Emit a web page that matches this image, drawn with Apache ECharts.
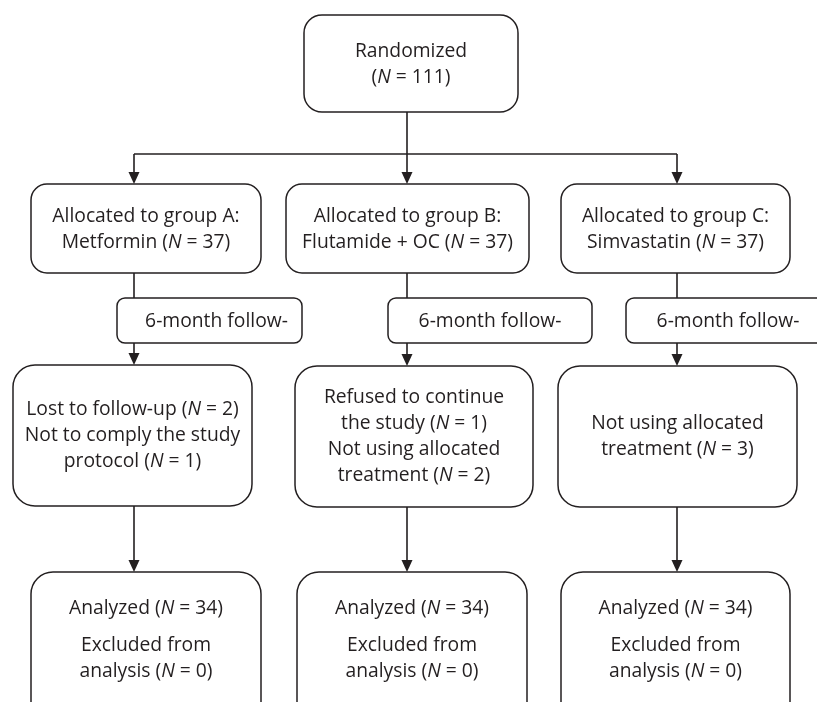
<!DOCTYPE html>
<html>
<head>
<meta charset="utf-8">
<script src="https://cdn.jsdelivr.net/npm/echarts@6/dist/echarts.min.js"></script>
<style>html,body{margin:0;padding:0;background:#fff}#c{width:817px;height:702px}</style>
</head>
<body>
<div id="c"></div>
<script>
// ---------------- data ----------------
const randomizedLabel = 'Randomized';
const randomizedN = 111;
const groupLetters = ['A', 'B', 'C'];
const groupDrugs = ['Metformin', 'Flutamide + OC', 'Simvastatin'];
const allocatedN = [37, 37, 37];
const followUpLabels = ['6-month follow-', '6-month follow-', '6-month follow-'];
// each loss reason: text lines, the last line carries the count
const lossReasons = [
  [['Lost to follow-up'], ['Not to comply the study', 'protocol']],
  [['Refused to continue', 'the study'], ['Not using allocated', 'treatment']],
  [['Not using allocated', 'treatment']]
];
const lossCounts = [[2, 1], [1, 2], [3]];
const analyzedN = [34, 34, 34];
const excludedN = [0, 0, 0];

// ---------------- layout (pixel-like units of the hidden axes) ----------------
const W = 817, H = 702;
const colX = [134, 407, 677];
const boxRandom = [304, 15, 518, 112];
const boxGroup = [[31, 184, 261, 273], [286, 184, 529, 273], [561, 184, 790, 273]];
const boxFollow = [[117, 298, 302, 343], [388, 298, 592, 343], [626, 298, 830, 343]];
const followTextDx = [7, 0, 0];
const boxLoss = [[13, 365, 252, 506], [295, 366, 533, 507], [558, 366, 797, 507]];
const boxAnalyzed = [[31, 572, 261, 730], [297, 572, 527, 730], [561, 572, 790, 730]];
const branchY = 154;

const INK = '#231f20';
const FONT = '"Open Sans", sans-serif';
const FS = 19.3;
const LH = 26;
const TDY = 1.5;

const nTxt = n => '({i|N} = ' + n + ')';

// build box items
const boxes = [];
boxes.push({ r: boxRandom, rad: 18, lines: [randomizedLabel, nTxt(randomizedN)] });
groupLetters.forEach((g, i) => {
  boxes.push({ r: boxGroup[i], rad: 16, lines: ['Allocated to group ' + g + ':', groupDrugs[i] + ' ' + nTxt(allocatedN[i])] });
  boxes.push({ r: boxFollow[i], rad: 8, lines: [followUpLabels[i]], dx: followTextDx[i] });
  const ls = [];
  lossReasons[i].forEach((reason, k) => {
    reason.forEach((t, j) => {
      ls.push(j === reason.length - 1 ? t + ' ' + nTxt(lossCounts[i][k]) : t);
    });
  });
  boxes.push({ r: boxLoss[i], rad: 22, lines: ls, dy: -1 });
  boxes.push({ r: boxAnalyzed[i], rad: 22, lines: ['Analyzed ' + nTxt(analyzedN[i])],
               extra: ['Excluded from', 'analysis ' + nTxt(excludedN[i])], bottom: true });
});

// connectors: [x1,y1,x2,y2,arrow]
const links = [];
links.push([colX[1], boxRandom[3], colX[1], branchY, 0]);
links.push([colX[0], branchY, colX[2], branchY, 0]);
colX.forEach((x, i) => {
  links.push([x, branchY, x, boxGroup[i][1], 1]);
  links.push([x, boxGroup[i][3], x, boxFollow[i][1], 0]);
  links.push([x, boxFollow[i][3], x, boxLoss[i][1], 1]);
  links.push([x, boxLoss[i][3], x, boxAnalyzed[i][1], 1]);
});

const rich = { i: { fontStyle: 'italic', fontFamily: FONT, fontSize: FS, fill: INK } };

function txt(lines, cx, cy) {
  return {
    type: 'text',
    style: {
      text: lines.join('\n'), x: cx, y: cy + TDY, align: 'center', verticalAlign: 'middle',
      fontFamily: FONT, fontSize: FS, lineHeight: LH, fill: INK, rich: rich
    }
  };
}

const chart = echarts.init(document.getElementById('c'), null, { renderer: 'canvas' });
chart.setOption({
  backgroundColor: '#fff',
  animation: false,
  grid: { left: 0, right: 0, top: 0, bottom: 0 },
  xAxis: { type: 'value', min: 0, max: W, show: false },
  yAxis: { type: 'value', min: 0, max: H, inverse: true, show: false },
  series: [
    {
      type: 'custom',
      clip: false,
      data: links.map((l, i) => [i]),
      renderItem: function (params, api) {
        const l = links[api.value(0)];
        const p1 = api.coord([l[0], l[1]]);
        const p2 = api.coord([l[2], l[3]]);
        const ch = [];
        const ah = 12;
        const end = l[4] ? [p2[0], p2[1] - ah + 1] : p2;
        ch.push({ type: 'line', shape: { x1: p1[0], y1: p1[1], x2: end[0], y2: end[1] },
                  style: { stroke: INK, lineWidth: 1.6 } });
        if (l[4]) {
          ch.push({ type: 'polygon', shape: { points: [[p2[0] - 5.5, p2[1] - ah], [p2[0] + 5.5, p2[1] - ah], [p2[0], p2[1]]] },
                    style: { fill: INK } });
        }
        return { type: 'group', children: ch };
      }
    },
    {
      type: 'custom',
      clip: false,
      data: boxes.map((b, i) => [i]),
      renderItem: function (params, api) {
        const b = boxes[api.value(0)];
        const a = api.coord([b.r[0], b.r[1]]);
        const c = api.coord([b.r[2], b.r[3]]);
        const ch = [{
          type: 'rect',
          shape: { x: a[0], y: a[1], width: c[0] - a[0], height: c[1] - a[1], r: b.rad },
          style: { fill: '#fff', stroke: INK, lineWidth: 1.5 }
        }];
        const cx = (b.r[0] + b.r[2]) / 2 + (b.dx || 0);
        if (b.bottom) {
          const t1 = api.coord([cx, b.r[1] + 35]);
          const t2 = api.coord([cx, b.r[1] + 85.5]);
          ch.push(txt(b.lines, t1[0], t1[1]));
          ch.push(txt(b.extra, t2[0], t2[1]));
        } else {
          const m = api.coord([cx, (b.r[1] + b.r[3]) / 2 + (b.dy || 0)]);
          ch.push(txt(b.lines, m[0], m[1]));
        }
        return { type: 'group', children: ch };
      }
    }
  ]
});
</script>
</body>
</html>
